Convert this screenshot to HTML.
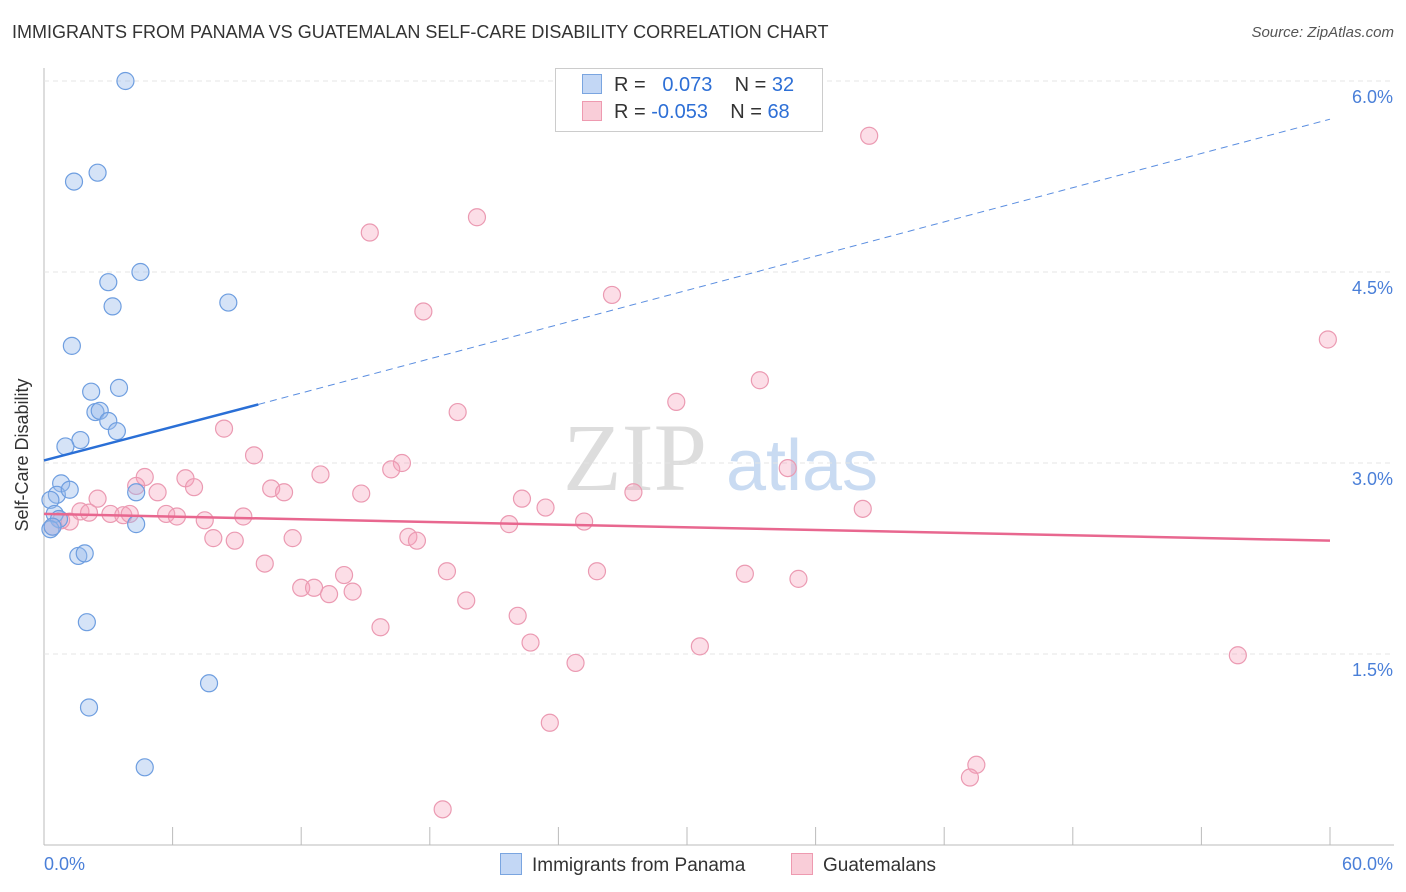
<!DOCTYPE html>
<html><head><meta charset="utf-8"><style>
body{margin:0;background:#fff;font-family:"Liberation Sans",sans-serif;}
#c{position:relative;width:1406px;height:892px;}
.t{position:absolute;white-space:nowrap}
</style></head><body>
<div id="c">
<div class="t" style="left:12px;top:22px;font-size:18px;color:#333">IMMIGRANTS FROM PANAMA VS GUATEMALAN SELF-CARE DISABILITY CORRELATION CHART</div>
<div class="t" style="right:12px;top:24px;font-size:15px;color:#555;font-style:italic">Source: ZipAtlas.com</div>
<svg id="s" width="1406" height="892" style="position:absolute;left:0;top:0">
<text x="635" y="490" font-size="96" font-family="Liberation Serif" fill="#ddd" text-anchor="middle">ZIP</text>
<text x="802" y="490" font-size="72" font-family="Liberation Sans" fill="#c9dbf2" text-anchor="middle">atlas</text>
<text x="28" y="455" font-size="18" fill="#333" transform="rotate(-90 28 455)" text-anchor="middle">Self-Care Disability</text>
</svg>
<div class="t" style="left:555px;top:68px;width:266px;height:62px;border:1px solid #ccc;background:#fff"></div>
<div class="t" style="left:582px;top:74px;font-size:20px;color:#333"><span style="display:inline-block;width:18px;height:18px;background:#c3d7f5;border:1px solid #7aa5e0;vertical-align:-3px;margin-right:12px"></span>R = &nbsp;<span style="color:#2d6fd6">&nbsp;0.073</span>&nbsp;&nbsp;&nbsp; N = <span style="color:#2d6fd6">32</span></div>
<div class="t" style="left:582px;top:101px;font-size:20px;color:#333"><span style="display:inline-block;width:18px;height:18px;background:#f9cdd8;border:1px solid #ee9ab0;vertical-align:-3px;margin-right:12px"></span>R = <span style="color:#2d6fd6">-0.053</span>&nbsp;&nbsp;&nbsp; N = <span style="color:#2d6fd6">68</span></div>
<div class="t" style="left:500px;top:853px;font-size:19px;color:#333"><span style="display:inline-block;width:20px;height:20px;background:#c3d7f5;border:1px solid #7aa5e0;vertical-align:-4px;margin-right:10px"></span>Immigrants from Panama</div>
<div class="t" style="left:791px;top:853px;font-size:19px;color:#333"><span style="display:inline-block;width:20px;height:20px;background:#f9cdd8;border:1px solid #ee9ab0;vertical-align:-4px;margin-right:10px"></span>Guatemalans</div>
</div>
<script>
const yTicks=[1.5,3.0,4.5,6.0];
const xTickLabels=["0.0%","60.0%"];
const blueX=[3.8,2.5,1.4,4.5,3.0,3.2,8.6,1.3,2.2,3.5,2.4,2.6,3.0,3.4,1.7,1.0,0.8,0.6,1.2,0.3,4.3,0.5,0.7,0.3,4.3,1.6,1.9,2.0,7.7,2.1,4.7,0.4];
const blueY=[6.0,5.28,5.21,4.5,4.42,4.23,4.26,3.92,3.56,3.59,3.40,3.41,3.33,3.25,3.18,3.13,2.84,2.75,2.79,2.71,2.77,2.60,2.56,2.48,2.52,2.27,2.29,1.75,1.27,1.08,0.61,2.50];
const pinkX=[38.5,20.2,15.2,26.5,17.7,59.9,33.4,29.5,19.3,8.4,9.8,16.7,16.2,34.7,4.7,6.6,12.9,4.3,7.0,10.6,11.2,5.3,14.8,22.3,27.5,2.5,23.4,38.2,1.7,2.1,3.1,3.7,4.0,5.7,6.2,7.5,9.3,21.7,25.2,1.2,0.8,7.9,8.9,11.6,17.0,17.4,10.3,18.8,25.8,32.7,14.0,35.2,12.0,12.6,13.3,14.4,19.7,22.1,15.7,22.7,30.6,24.8,55.7,23.6,43.5,43.2,18.6,0.4];
const pinkY=[5.57,4.93,4.81,4.32,4.19,3.97,3.65,3.48,3.40,3.27,3.06,3.00,2.95,2.96,2.89,2.88,2.91,2.82,2.81,2.80,2.77,2.77,2.76,2.72,2.77,2.72,2.65,2.64,2.62,2.61,2.60,2.59,2.60,2.60,2.58,2.55,2.58,2.52,2.54,2.54,2.55,2.41,2.39,2.41,2.42,2.39,2.21,2.15,2.15,2.13,2.12,2.09,2.02,2.02,1.97,1.99,1.92,1.80,1.71,1.59,1.56,1.43,1.49,0.96,0.63,0.53,0.28,2.50];
const blueTrend=[0,3.02,10,3.46,60,5.7];
const pinkTrend=[0,2.6,60,2.39];
const ns="http://www.w3.org/2000/svg",s=document.getElementById('s'),c=document.getElementById('c');
const X=v=>44+v/60*1286, Y=v=>845-v/6*764;
function el(t,a,p){const e=document.createElementNS(ns,t);for(const k in a)e.setAttribute(k,a[k]);(p||s).appendChild(e);return e;}
let e;
e=el('line',{x1:44,y1:68,x2:44,y2:845,stroke:'#bbb'});


e=el('line',{x1:44,y1:845,x2:1394,y2:845,stroke:'#bbb'});


for(let i=1;i<=10;i++){e=el('line',{x1:X(i*6),y1:827,x2:X(i*6),y2:845,stroke:'#bbb'});

}
yTicks.forEach(v=>{e=el('line',{x1:44,y1:Y(v),x2:1394,y2:Y(v),stroke:'#e4e4e4','stroke-dasharray':'5,4'});


e=el('text',{x:1393,y:Y(v)+22,'text-anchor':'end','font-size':18,fill:'#4a7fd8'});e.textContent=v.toFixed(1)+'%';

});
e=el('text',{x:44,y:870,'font-size':18,fill:'#4a7fd8'});e.textContent=xTickLabels[0];


e=el('text',{x:1393,y:870,'text-anchor':'end','font-size':18,fill:'#4a7fd8'});e.textContent=xTickLabels[1];


pinkX.forEach((x,i)=>{e=el('circle',{cx:X(x),cy:Y(pinkY[i]),r:8.5,fill:'rgba(245,160,185,0.35)',stroke:'#eb9ab2','stroke-width':1.2});

});
blueX.forEach((x,i)=>{e=el('circle',{cx:X(x),cy:Y(blueY[i]),r:8.5,fill:'rgba(150,185,235,0.4)',stroke:'#6e9ee0','stroke-width':1.2});

});
e=el('line',{x1:X(blueTrend[0]),y1:Y(blueTrend[1]),x2:X(blueTrend[2]),y2:Y(blueTrend[3]),stroke:'#2a6fd6','stroke-width':2.5});


e=el('line',{x1:X(blueTrend[2]),y1:Y(blueTrend[3]),x2:X(blueTrend[4]),y2:Y(blueTrend[5]),stroke:'#5b8ee0','stroke-width':1,'stroke-dasharray':'7,5'});


e=el('line',{x1:X(pinkTrend[0]),y1:Y(pinkTrend[1]),x2:X(pinkTrend[2]),y2:Y(pinkTrend[3]),stroke:'#e8678f','stroke-width':2.5});


</script>
</body></html>
